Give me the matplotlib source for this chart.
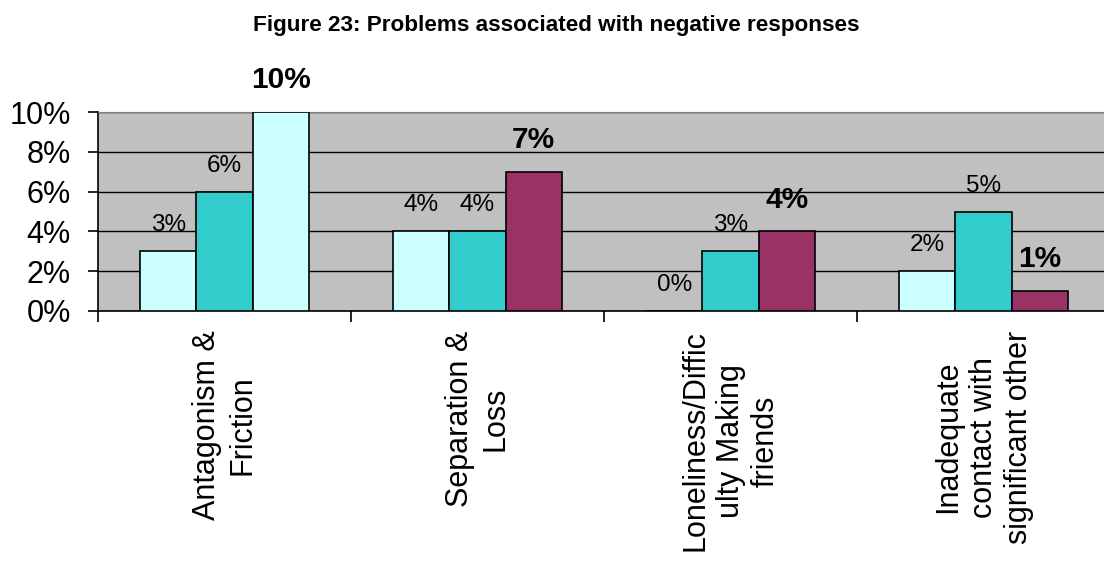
import numpy as np
import matplotlib
matplotlib.use("Agg")
import matplotlib.pyplot as plt

plt.rcParams['font.family'] = ['Liberation Sans', 'DejaVu Sans']

# Datos
categorias = ["Antagonism &\nFriction", "Separation &\nLoss",
              "Loneliness/Diffic\nulty Making\nfriends",
              "Inadequate\ncontact with\nsignificant other"]
serie_1 = [0.03, 0.04, 0.00, 0.02]
serie_2 = [0.06, 0.04, 0.03, 0.05]
serie_3 = [0.10, 0.07, 0.04, 0.01]
etiquetas_y = ["0%", "2%", "4%", "6%", "8%", "10%"]

# Colores (la primera barra de la serie 3 aparece en celeste)
c1, c2, c3 = "#CCFFFF", "#33CCCC", "#993366"
colores_3 = [c1, c3, c3, c3]

W, H, DPI = 1104, 562, 100
fig = plt.figure(figsize=(W / DPI, H / DPI), dpi=DPI)
ax = fig.add_axes([98 / W, 1 - 311 / H, (1110 - 98) / W, (311 - 112) / H])
ax.set_facecolor("#C0C0C0")

x = np.arange(len(categorias))
ancho = 0.222
for k, (vals, col) in enumerate([(serie_1, c1), (serie_2, c2), (serie_3, colores_3)]):
    pos = x + (k - 1) * ancho
    ax.bar(pos, vals, ancho, color=col, edgecolor="black", linewidth=1.2, zorder=3)
    for xi, v in zip(pos, vals):
        if k == 2:
            ax.annotate(f"{v:.0%}", (xi, v), xytext=(0, 17), textcoords="offset points",
                        ha="center", va="baseline", fontsize=21.5, fontweight="bold")
        else:
            ax.annotate(f"{v:.0%}", (xi, v), xytext=(0, 14.4), textcoords="offset points",
                        ha="center", va="baseline", fontsize=17.5)

ax.set_xlim(-0.5, len(categorias) - 0.5)
ax.set_ylim(0, 0.10)
ax.set_yticks(np.arange(0, 0.101, 0.02))
ax.set_yticklabels(etiquetas_y, fontsize=22)
ax.yaxis.grid(True, color="black", linewidth=1.0, zorder=1)
ax.set_axisbelow(True)

# marcas en los limites de categoria, etiquetas en el centro
ax.set_xticks(np.arange(len(categorias) + 1) - 0.5)
ax.set_xticklabels([])
ax.set_xticks(x, minor=True)
ax.set_xticklabels(categorias, minor=True, rotation=90, fontsize=22,
                   ha="center", va="top", multialignment="center", linespacing=1.22)
ax.tick_params(axis="x", which="minor", length=0, pad=14)
ax.tick_params(axis="x", which="major", length=8, width=1.2, direction="out")
ax.tick_params(axis="y", length=7.5, width=1.2, direction="out", pad=12)

ax.spines["top"].set_color("#808080")
ax.spines["right"].set_visible(False)
for s in ("left", "bottom"):
    ax.spines[s].set_linewidth(1.2)

fig.text(556 / W, 1 - 31 / H, "Figure 23: Problems associated with negative responses",
         ha="center", va="baseline", fontsize=16.2, fontweight="bold")

fig.savefig("out.png", dpi=DPI)
